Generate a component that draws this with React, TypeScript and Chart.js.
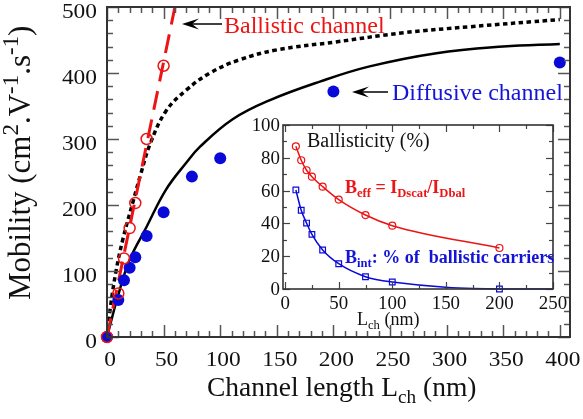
import React, { useEffect, useRef } from 'react';
import { Chart, registerables } from 'chart.js';
Chart.register(...registerables);

const FONT = '"Liberation Serif", "Times New Roman", Times, serif';
const RED = '#ec1414';
const BLUE_TXT = '#1414d8';
const BLUE_DOT = '#0a0ad8';

// ---- main chart data ----
const ballisticL = [0, 10, 15, 20, 25, 35, 50];
const ballisticMob = [0, 66, 119, 165, 203, 300, 411];
const diffusiveL = [0, 10, 15, 20, 25, 35, 50, 75, 100, 200, 400];
const diffusiveMob = [0, 56, 86, 105, 121, 153, 189, 243, 271, 372, 416];
const ballisticLineL = [0, 60];
const ballisticLineMob = [0, 500];
const upperCurveL = [0, 3, 8, 14, 23, 30, 38, 52, 70, 91, 117, 150, 202, 262, 320, 400];
const upperCurveMob = [0, 45, 100, 148, 205, 248, 292, 342, 374, 400, 420, 435, 447, 461, 470, 481];
const modelCurveL = [0, 10, 20, 35, 52, 70, 82, 111, 144, 188, 232, 291, 350, 400];
const modelCurveMob = [0, 64, 117, 167, 223, 264, 288, 330, 359, 387, 410, 430, 440, 444];
const xTicksMain = [0, 50, 100, 150, 200, 250, 300, 350, 400];
const yTicksMain = [0, 100, 200, 300, 400, 500];

// ---- inset data ----
const insetL = [10, 15, 20, 25, 35, 50, 75, 100, 200];
const bEff = [87, 78.5, 72.4, 68.5, 62.4, 54.5, 45.1, 38.6, 25];
const bIntL = [10, 15, 20, 25, 35, 50, 75, 100, 200, 250];
const bInt = [60.4, 48, 40.2, 33.3, 23.8, 15.4, 7.5, 4.3, 0, 0];
const insetXTicks = [0, 50, 100, 150, 200, 250];
const insetYTicks = [0, 20, 40, 60, 80, 100];

const INSET_LEFT = 230;
const INSET_TOP = 100;

type Seg = { t: string; m?: 'sub' | 'sup' };

function richText(ctx: CanvasRenderingContext2D, segs: Seg[], x: number, y: number, size: number, color: string, weight = 'normal', align = 'left', small = 0.7) {
  const fontFor = (m?: string) => `${weight} ${m ? size * small : size}px ${FONT}`;
  let total = 0;
  for (const s of segs) {
    ctx.font = fontFor(s.m);
    total += ctx.measureText(s.t).width;
  }
  let cx = align === 'center' ? x - total / 2 : align === 'right' ? x - total : x;
  ctx.fillStyle = color;
  ctx.textAlign = 'left';
  ctx.textBaseline = 'alphabetic';
  for (const s of segs) {
    ctx.font = fontFor(s.m);
    const dy = s.m === 'sub' ? size * 0.24 : s.m === 'sup' ? -size * 0.4 : 0;
    ctx.fillText(s.t, cx, y + dy);
    cx += ctx.measureText(s.t).width;
  }
}

function stretchText(ctx: CanvasRenderingContext2D, text: string, x: number, y: number, size: number, align: CanvasTextAlign, sx: number, color: string) {
  ctx.save();
  ctx.translate(x, y);
  ctx.scale(sx, 1);
  ctx.font = `${size}px ${FONT}`;
  ctx.fillStyle = color;
  ctx.textAlign = align;
  ctx.textBaseline = 'alphabetic';
  ctx.fillText(text, 0, 0);
  ctx.restore();
}

function seg(ctx: CanvasRenderingContext2D, x1: number, y1: number, x2: number, y2: number) {
  ctx.beginPath();
  ctx.moveTo(x1, y1);
  ctx.lineTo(x2, y2);
  ctx.stroke();
}

function arrowLeft(ctx: CanvasRenderingContext2D, tip: number, end: number, y: number) {
  ctx.strokeStyle = '#000';
  ctx.lineWidth = 1.5;
  seg(ctx, tip + 4, y, end, y);
  ctx.fillStyle = '#000';
  ctx.beginPath();
  ctx.moveTo(tip, y);
  ctx.lineTo(tip + 17, y - 5.5);
  ctx.lineTo(tip + 10, y);
  ctx.lineTo(tip + 17, y + 5.5);
  ctx.closePath();
  ctx.fill();
}

const pts = (xs: number[], ys: number[]) => xs.map((v, i) => ({ x: v, y: ys[i] }));

const mainDecor = {
  id: 'mainDecor',
  afterDraw(chart: any) {
    const { ctx, chartArea: a, scales } = chart;
    const x = scales.x;
    const y = scales.y;
    ctx.save();
    ctx.strokeStyle = '#555';
    ctx.lineWidth = 1.5;
    for (let v = 0; v <= 400; v += 10) {
      const px = Math.round(x.getPixelForValue(v)) + 0.5;
      const len = v % 50 === 0 ? 12 : 6;
      seg(ctx, px, a.bottom, px, a.bottom - len);
      seg(ctx, px, a.top, px, a.top + len);
    }
    for (let v = 0; v <= 500; v += 20) {
      const py = Math.round(y.getPixelForValue(v)) + 0.5;
      const len = v % 100 === 0 ? 12 : 6;
      seg(ctx, a.left, py, a.left + len, py);
      seg(ctx, a.right, py, a.right - len, py);
    }
    ctx.strokeStyle = '#333';
    ctx.lineWidth = 2;
    ctx.strokeRect(a.left, a.top, a.right - a.left, a.bottom - a.top);
    for (const v of xTicksMain) {
      stretchText(ctx, String(v), x.getPixelForValue(v) + 3, 365.5, 20, 'center', 1.17, '#111');
    }
    for (const v of yTicksMain) {
      stretchText(ctx, String(v), 97, y.getPixelForValue(v) + 10.5, 20, 'right', 1.17, '#111');
    }
    richText(ctx, [{ t: 'Channel length L' }, { t: 'ch', m: 'sub' }, { t: ' (nm)' }], 207, 396, 27.5, '#111');
    ctx.save();
    ctx.translate(30, 300);
    ctx.rotate(-Math.PI / 2);
    richText(ctx, [
      { t: 'Mobility (cm' }, { t: '2', m: 'sup' }, { t: '.V' }, { t: '-1', m: 'sup' }, { t: '.s' }, { t: '-1', m: 'sup' }, { t: ')' },
    ], 0, 0, 31, '#111', 'normal', 'left', 0.74);
    ctx.restore();
    arrowLeft(ctx, 182, 222, 24);
    richText(ctx, [{ t: 'Ballistic channel' }], 224, 33, 24, RED);
    arrowLeft(ctx, 352, 388, 92);
    richText(ctx, [{ t: 'Diffusive channel' }], 392, 100, 24, BLUE_TXT);
    ctx.restore();
  },
};

const insetDecor = {
  id: 'insetDecor',
  afterDraw(chart: any) {
    const { ctx, chartArea: a, scales } = chart;
    const x = scales.x;
    const y = scales.y;
    const ox = INSET_LEFT;
    const oy = INSET_TOP;
    ctx.save();
    ctx.strokeStyle = '#444';
    ctx.lineWidth = 1.2;
    for (let v = 0; v <= 250; v += 25) {
      const px = Math.round(x.getPixelForValue(v)) + 0.5;
      const len = v % 50 === 0 ? 7 : 4;
      seg(ctx, px, a.bottom, px, a.bottom - len);
      seg(ctx, px, a.top, px, a.top + len);
    }
    for (let v = 0; v <= 100; v += 10) {
      const py = Math.round(y.getPixelForValue(v)) + 0.5;
      const len = v % 20 === 0 ? 7 : 4;
      seg(ctx, a.left, py, a.left + len, py);
      seg(ctx, a.right, py, a.right - len, py);
    }
    ctx.strokeStyle = '#333';
    ctx.lineWidth = 1.6;
    ctx.strokeRect(a.left, a.top, a.right - a.left, a.bottom - a.top);
    for (const v of insetXTicks) {
      stretchText(ctx, String(v), x.getPixelForValue(v), 309 - oy, 18, 'center', 1.05, '#111');
    }
    for (const v of insetYTicks) {
      stretchText(ctx, String(v), 280 - ox, y.getPixelForValue(v) + 6, 18, 'right', 1.05, '#111');
    }
    richText(ctx, [{ t: 'L' }, { t: 'ch', m: 'sub' }, { t: ' (nm)' }], 357 - ox, 325 - oy, 18, '#111');
    richText(ctx, [{ t: 'Ballisticity (%)' }], 307 - ox, 147 - oy, 20, '#111');
    richText(ctx, [
      { t: 'B' }, { t: 'eff', m: 'sub' }, { t: ' = I' }, { t: 'Dscat', m: 'sub' }, { t: '/I' }, { t: 'Dbal', m: 'sub' },
    ], 345 - ox, 193 - oy, 18, RED, 'bold');
    richText(ctx, [
      { t: 'B' }, { t: 'int', m: 'sub' }, { t: ': % of  ballistic carriers' },
    ], 345 - ox, 263 - oy, 18, BLUE_TXT, 'bold');
    ctx.restore();
  },
};

export default function App() {
  const mainRef = useRef<HTMLCanvasElement>(null);
  const insetRef = useRef<HTMLCanvasElement>(null);

  useEffect(() => {
    const main = new Chart(mainRef.current as HTMLCanvasElement, {
      type: 'scatter',
      data: {
        datasets: [
          {
            label: 'Ballistic (simulation)',
            data: pts(ballisticL, ballisticMob),
            showLine: false,
            clip: false,
            pointStyle: 'circle',
            pointRadius: 5.5,
            pointBorderWidth: 1.5,
            pointBorderColor: RED,
            pointBackgroundColor: 'rgba(0,0,0,0)',
          },
          {
            label: 'Diffusive (simulation)',
            data: pts(diffusiveL, diffusiveMob),
            showLine: false,
            clip: false,
            pointRadius: 6,
            pointBorderWidth: 0,
            pointBorderColor: BLUE_DOT,
            pointBackgroundColor: BLUE_DOT,
          },
          {
            label: 'Ballistic line',
            data: pts(ballisticLineL, ballisticLineMob),
            showLine: true,
            clip: false,
            borderColor: RED,
            borderWidth: 3,
            borderDash: [19, 10],
            pointRadius: 0,
          },
          {
            label: 'Upper model',
            data: pts(upperCurveL, upperCurveMob),
            showLine: true,
            clip: false,
            borderColor: '#000',
            borderWidth: 3.5,
            borderDash: [4.5, 3.5],
            borderCapStyle: 'butt',
            pointRadius: 0,
            tension: 0.4,
          },
          {
            label: 'Model',
            data: pts(modelCurveL, modelCurveMob),
            showLine: true,
            clip: false,
            borderColor: '#000',
            borderWidth: 2.5,
            pointRadius: 0,
            tension: 0.4,
          },
        ],
      } as any,
      options: {
        responsive: false,
        animation: false,
        events: [],
        layout: { padding: { left: 107, top: 7, right: 13, bottom: 82 } },
        plugins: { legend: { display: false }, tooltip: { enabled: false } },
        scales: {
          x: { type: 'linear', min: 0, max: 409, display: false },
          y: { type: 'linear', min: 0, max: 500, display: false },
        },
      },
      plugins: [mainDecor],
    } as any);

    const inset = new Chart(insetRef.current as HTMLCanvasElement, {
      type: 'scatter',
      data: {
        datasets: [
          {
            label: 'B_eff',
            data: pts(insetL, bEff),
            showLine: true,
            clip: false,
            borderColor: RED,
            borderWidth: 1.5,
            pointStyle: 'circle',
            pointRadius: 3.5,
            pointBorderWidth: 1.2,
            pointBorderColor: RED,
            pointBackgroundColor: 'rgba(0,0,0,0)',
            cubicInterpolationMode: 'monotone',
          },
          {
            label: 'B_int',
            data: pts(bIntL, bInt),
            showLine: true,
            clip: false,
            borderColor: BLUE_DOT,
            borderWidth: 1.5,
            pointStyle: 'rect',
            pointRadius: bIntL.map((v) => (v > 200 ? 0 : 4)),
            pointBorderWidth: 1.2,
            pointBorderColor: BLUE_DOT,
            pointBackgroundColor: 'rgba(0,0,0,0)',
            cubicInterpolationMode: 'monotone',
          },
        ],
      } as any,
      options: {
        responsive: false,
        animation: false,
        events: [],
        layout: { padding: { left: 53, top: 25, right: 22, bottom: 46 } },
        plugins: { legend: { display: false }, tooltip: { enabled: false } },
        scales: {
          x: { type: 'linear', min: -2, max: 250, display: false },
          y: { type: 'linear', min: 0, max: 100, display: false },
        },
      },
      plugins: [insetDecor],
    } as any);

    return () => {
      main.destroy();
      inset.destroy();
    };
  }, []);

  return (
    <div style={{ position: 'fixed', left: 0, top: 0, width: 583, height: 419, background: '#fff' }}>
      <canvas ref={mainRef} width={583} height={419} style={{ position: 'absolute', left: 0, top: 0, width: 583, height: 419 }} />
      <canvas
        ref={insetRef}
        width={345}
        height={235}
        style={{ position: 'absolute', left: INSET_LEFT, top: INSET_TOP, width: 345, height: 235 }}
      />
    </div>
  );
}
